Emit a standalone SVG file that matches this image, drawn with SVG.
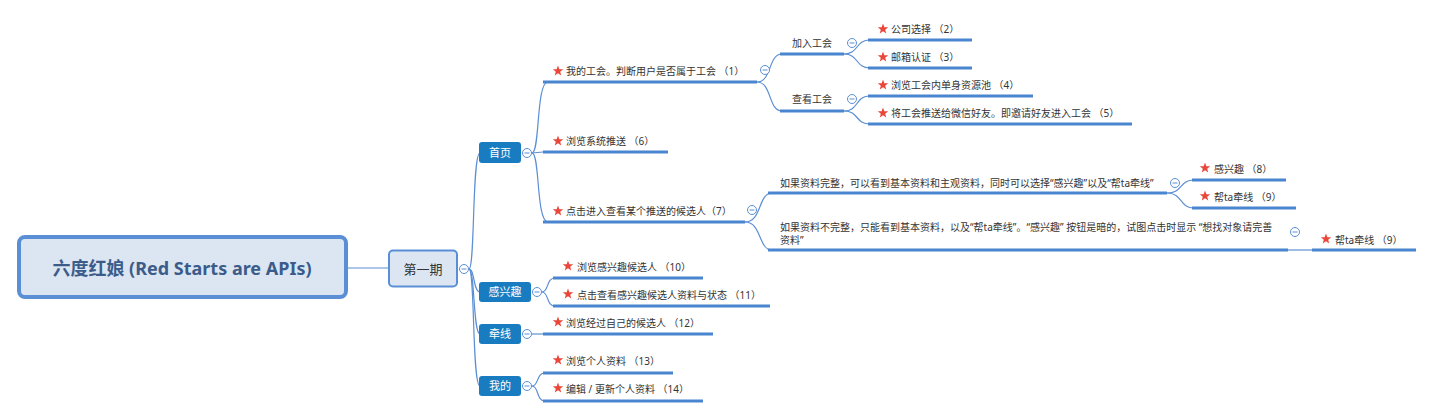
<svg xmlns="http://www.w3.org/2000/svg" width="1433" height="417" viewBox="0 0 1433 417">
<style>
text{font-family:"Noto Sans","Noto Sans CJK SC",sans-serif;fill:#333;}
.t{font-size:10px;}
.u{stroke:#4A86CF;stroke-width:3;fill:none;}
.c{stroke:#5B8FD4;stroke-width:1.2;fill:none;}
.sub rect{fill:#1A7CC0;}
.sub text{fill:#fff;font-size:11px;text-anchor:middle;}
</style>
<defs>
<polygon id="star" fill="#E8473A" points="0,-5.5 1.35,-1.87 5.23,-1.7 2.2,0.72 3.23,4.45 0,2.31 -3.23,4.45 -2.2,0.72 -5.23,-1.7 -1.35,-1.87"/>
<g id="minus"><circle cx="0" cy="0" r="4.5" fill="#fff" stroke="#5B8FD4" stroke-width="1"/><line x1="-2.5" y1="0" x2="2.5" y2="0" stroke="#5B8FD4" stroke-width="1"/></g>
</defs>

<g id="connectors">
<line class="c" x1="347" y1="268" x2="389" y2="268"/>
<path class="c" d="M469,269 C475,269 472,153 480,153"/>
<path class="c" d="M469,269 C475,269 473,292 480,292"/>
<path class="c" d="M469,269 C475,269 473,334 480,334"/>
<path class="c" d="M469,269 C475,269 472,386 480,386"/>
<path class="c" d="M532,153 C540,153 536,82 548,82"/>
<path class="c" d="M532,153 L543,152"/>
<path class="c" d="M532,153 C540,153 536,222 548,222"/>
<path class="c" d="M757,82 C772,82 768,54 782,54"/>
<path class="c" d="M757,82 C772,82 768,111 782,111"/>
<path class="c" d="M844,54 C859,54 855,40 870,40"/>
<path class="c" d="M844,54 C859,54 855,68 870,68"/>
<path class="c" d="M844,111 C859,111 855,96 870,96"/>
<path class="c" d="M844,111 C859,111 855,124 870,124"/>
<path class="c" d="M745,222 C762,222 758,193 772,193"/>
<path class="c" d="M745,222 C762,222 758,250 772,250"/>
<path class="c" d="M1167,193 C1183,193 1179,180 1194,180"/>
<path class="c" d="M1167,193 C1183,193 1179,208 1194,208"/>
<line class="c" x1="1288" y1="250" x2="1312" y2="250"/>
<path class="c" d="M542,292 C549,292 546,278 555,278"/>
<path class="c" d="M542,292 C549,292 546,306 555,306"/>
<line class="c" x1="532" y1="334" x2="543" y2="334"/>
<path class="c" d="M532,386 C539,386 536,373 545,373"/>
<path class="c" d="M532,386 C539,386 536,401 545,401"/>
</g>

<g id="root">
<rect x="19" y="237" width="327" height="60" rx="6" fill="#DCE6F2" stroke="#5A8FD6" stroke-width="4"/>
<text x="182" y="275" font-size="18" font-weight="bold" text-anchor="middle" style="fill:#3B5C8A">六度红娘 (Red Starts are APIs)</text>
</g>

<g id="phase1">
<rect x="389" y="250.5" width="68" height="36" rx="4" fill="#DCE6F2" stroke="#5A8FD6" stroke-width="2"/>
<text x="423" y="273.5" font-size="13" text-anchor="middle">第一期</text>
<use href="#minus" x="464" y="269"/>
</g>

<g id="home" class="sub">
<rect x="479" y="142" width="42" height="21" rx="3"/>
<text x="500" y="157">首页</text>
<use href="#minus" x="527" y="153"/>
</g>
<g id="interest" class="sub">
<rect x="479" y="282" width="52" height="20" rx="3"/>
<text x="505" y="296">感兴趣</text>
<use href="#minus" x="537" y="292"/>
</g>
<g id="match" class="sub">
<rect x="479" y="324" width="42" height="20" rx="3"/>
<text x="500" y="338">牵线</text>
<use href="#minus" x="527" y="334"/>
</g>
<g id="mine" class="sub">
<rect x="479" y="376" width="42" height="20" rx="3"/>
<text x="500" y="390">我的</text>
<use href="#minus" x="527" y="386"/>
</g>

<g id="n1">
<use href="#star" x="558" y="71"/>
<text class="t" x="566" y="75">我的工会。判断用户是否属于工会 （1）</text>
<line class="u" x1="543" y1="82" x2="757" y2="82"/>
<use href="#minus" x="765" y="70"/>
</g>
<g id="n6">
<use href="#star" x="558" y="141"/>
<text class="t" x="566" y="145">浏览系统推送 （6）</text>
<line class="u" x1="543" y1="152" x2="668" y2="152"/>
</g>
<g id="n7">
<use href="#star" x="558" y="211"/>
<text class="t" x="566" y="215">点击进入查看某个推送的候选人（7）</text>
<line class="u" x1="543" y1="222" x2="745" y2="222"/>
<use href="#minus" x="752" y="210"/>
</g>

<g id="join">
<text class="t" x="792" y="47">加入工会</text>
<line class="u" x1="780" y1="54" x2="844" y2="54"/>
<use href="#minus" x="852" y="43"/>
</g>
<g id="view">
<text class="t" x="792" y="103">查看工会</text>
<line class="u" x1="780" y1="111" x2="844" y2="111"/>
<use href="#minus" x="852" y="99"/>
</g>
<g id="n2">
<use href="#star" x="883" y="29"/>
<text class="t" x="891" y="33">公司选择 （2）</text>
<line class="u" x1="868" y1="40" x2="972" y2="40"/>
</g>
<g id="n3">
<use href="#star" x="883" y="57"/>
<text class="t" x="891" y="61">邮箱认证 （3）</text>
<line class="u" x1="868" y1="68" x2="972" y2="68"/>
</g>
<g id="n4">
<use href="#star" x="883" y="85"/>
<text class="t" x="891" y="89">浏览工会内单身资源池 （4）</text>
<line class="u" x1="868" y1="96" x2="1033" y2="96"/>
</g>
<g id="n5">
<use href="#star" x="883" y="113"/>
<text class="t" x="891" y="117">将工会推送给微信好友。即邀请好友进入工会 （5）</text>
<line class="u" x1="868" y1="124" x2="1132" y2="124"/>
</g>

<g id="full">
<text class="t" x="780" y="187">如果资料完整，可以看到基本资料和主观资料，同时可以选择“感兴趣”以及“帮ta牵线”</text>
<line class="u" x1="768" y1="193" x2="1167" y2="193"/>
<use href="#minus" x="1175" y="183"/>
</g>
<g id="partial">
<text class="t" x="780" y="231">如果资料不完整，只能看到基本资料，以及“帮ta牵线”。“感兴趣” 按钮是暗的，试图点击时显示 “想找对象请完善</text>
<text class="t" x="780" y="244">资料”</text>
<line class="u" x1="768" y1="250" x2="1288" y2="250"/>
<use href="#minus" x="1295" y="232"/>
</g>
<g id="n8">
<use href="#star" x="1205" y="168"/>
<text class="t" x="1214" y="173">感兴趣 （8）</text>
<line class="u" x1="1192" y1="180" x2="1286" y2="180"/>
</g>
<g id="n9a">
<use href="#star" x="1205" y="196"/>
<text class="t" x="1214" y="201">帮ta牵线 （9）</text>
<line class="u" x1="1192" y1="208" x2="1296" y2="208"/>
</g>
<g id="n9b">
<use href="#star" x="1326" y="239"/>
<text class="t" x="1335" y="244">帮ta牵线 （9）</text>
<line class="u" x1="1312" y1="250" x2="1416" y2="250"/>
</g>

<g id="n10">
<use href="#star" x="568" y="266"/>
<text class="t" x="577" y="271">浏览感兴趣候选人 （10）</text>
<line class="u" x1="553" y1="278" x2="703" y2="278"/>
</g>
<g id="n11">
<use href="#star" x="568" y="294"/>
<text class="t" x="577" y="299">点击查看感兴趣候选人资料与状态 （11）</text>
<line class="u" x1="553" y1="306" x2="770" y2="306"/>
</g>
<g id="n12">
<use href="#star" x="558" y="322"/>
<text class="t" x="566" y="327">浏览经过自己的候选人 （12）</text>
<line class="u" x1="543" y1="334" x2="713" y2="334"/>
</g>
<g id="n13">
<use href="#star" x="558" y="360"/>
<text class="t" x="566" y="365">浏览个人资料 （13）</text>
<line class="u" x1="543" y1="373" x2="673" y2="373"/>
</g>
<g id="n14">
<use href="#star" x="558" y="388"/>
<text class="t" x="566" y="393">编辑 / 更新个人资料 （14）</text>
<line class="u" x1="543" y1="401" x2="703" y2="401"/>
</g>
</svg>
